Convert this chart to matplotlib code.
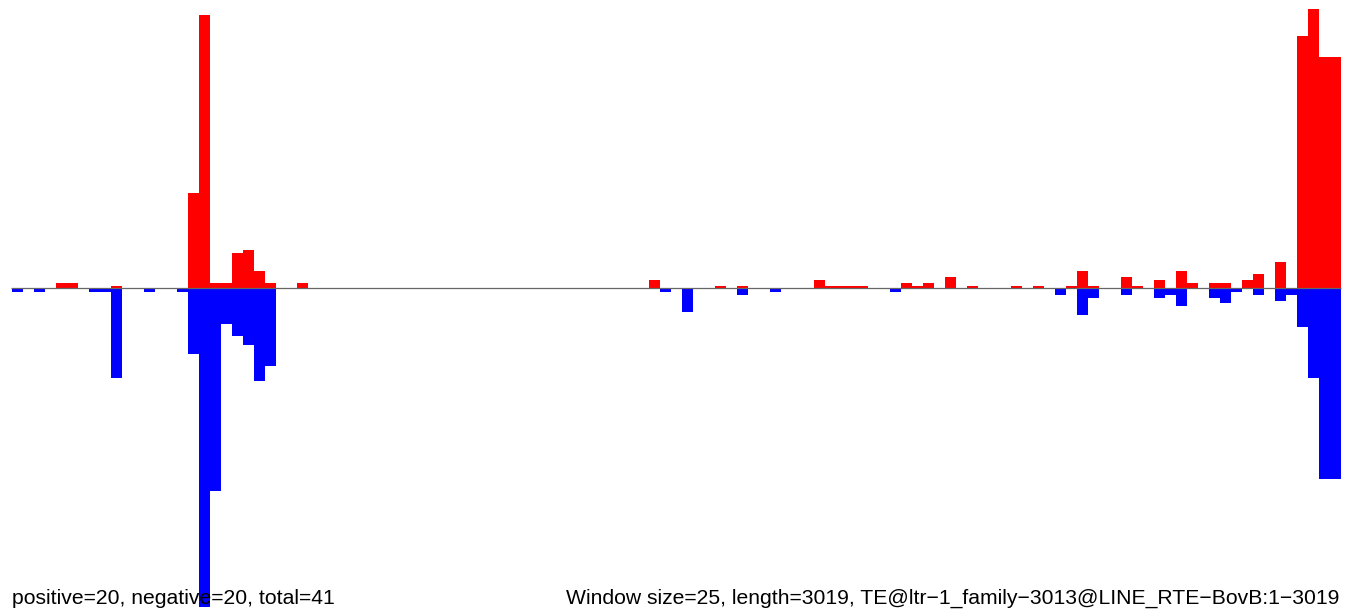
import numpy as np
import matplotlib
matplotlib.use('Agg')
import matplotlib.pyplot as plt

# window counts along the element (3019 bp / window 25 -> 121 windows)
n_windows = 121

# positive strand hits (window index, height)
pos_idx = [4, 5, 9, 16, 17, 18, 19, 20, 21, 22, 23, 26, 58, 64, 66, 73, 74, 75, 76, 77,
           81, 82, 83, 85, 87, 91, 93, 96, 97, 98, 101, 102, 104, 106, 107, 109, 110,
           112, 113, 115, 117, 118, 119, 120]
pos_val = [5.3, 5.3, 2.3, 95, 273, 5, 5, 35, 38, 17.3, 5, 5, 8.3, 2.3, 2.3, 8.3, 2.3, 2.3, 2.3, 2.3,
           5.3, 2.3, 5.3, 11.3, 2.3, 2.3, 2.3, 2.3, 17.3, 2.3, 11.3, 2.3, 8.3, 17.3, 5.3, 5.3, 5.3,
           8.3, 14.3, 26.3, 252.3, 279.3, 231.3, 231.3]

# negative strand hits (window index, depth)
neg_idx = [0, 2, 7, 8, 9, 12, 15, 16, 17, 18, 19, 20, 21, 22, 23, 59, 61, 66, 69, 80,
           95, 97, 98, 101, 104, 105, 106, 109, 110, 111, 113, 115, 116, 117, 118, 119, 120]
neg_val = [3.7, 3.7, 3.7, 3.7, 89.7, 3.7, 3.7, 65.7, 318.7, 202.5, 36, 47.7, 56.7, 93, 77.7, 3.7, 23.7, 6.3, 3.7, 3.7,
           6.3, 26.3, 9.3, 6.3, 9.3, 6.3, 17.3, 9.3, 14.3, 3.3, 6.3, 12.3, 6.3, 38.3, 89.3, 190.3, 190.3]

left_label = 'positive=20, negative=20, total=41'
right_label = 'Window size=25, length=3019, TE@ltr\u22121_family\u22123013@LINE_RTE\u2212BovB:1\u22123019'

pos = np.zeros(n_windows)
neg = np.zeros(n_windows)
pos[pos_idx] = pos_val
neg[neg_idx] = neg_val
x = np.arange(n_windows)

plt.rcParams['font.family'] = ['Liberation Sans', 'DejaVu Sans']

fig = plt.figure(figsize=(13.49, 6.11), dpi=100)
ax = fig.add_axes([0, 0, 1, 1])

ax.bar(x, pos, width=1, align='edge', color='#ff0000', linewidth=0)
ax.bar(x, -neg, width=1, align='edge', color='#0000ff', linewidth=0)
ax.hlines(0, -0.1, n_windows, color='#666666', linewidth=0.9, zorder=3)

ax.set_xlim(-12 / 10.98, (1349 - 12) / 10.98)
ax.set_ylim(-322.7, 288.3)
ax.axis('off')

fig.text(12 / 1349, 7 / 611, left_label, ha='left', va='baseline', fontsize=15.2)
fig.text(1339 / 1349, 7 / 611, right_label, ha='right', va='baseline', fontsize=15.2)

plt.savefig('out.png', dpi=100)
